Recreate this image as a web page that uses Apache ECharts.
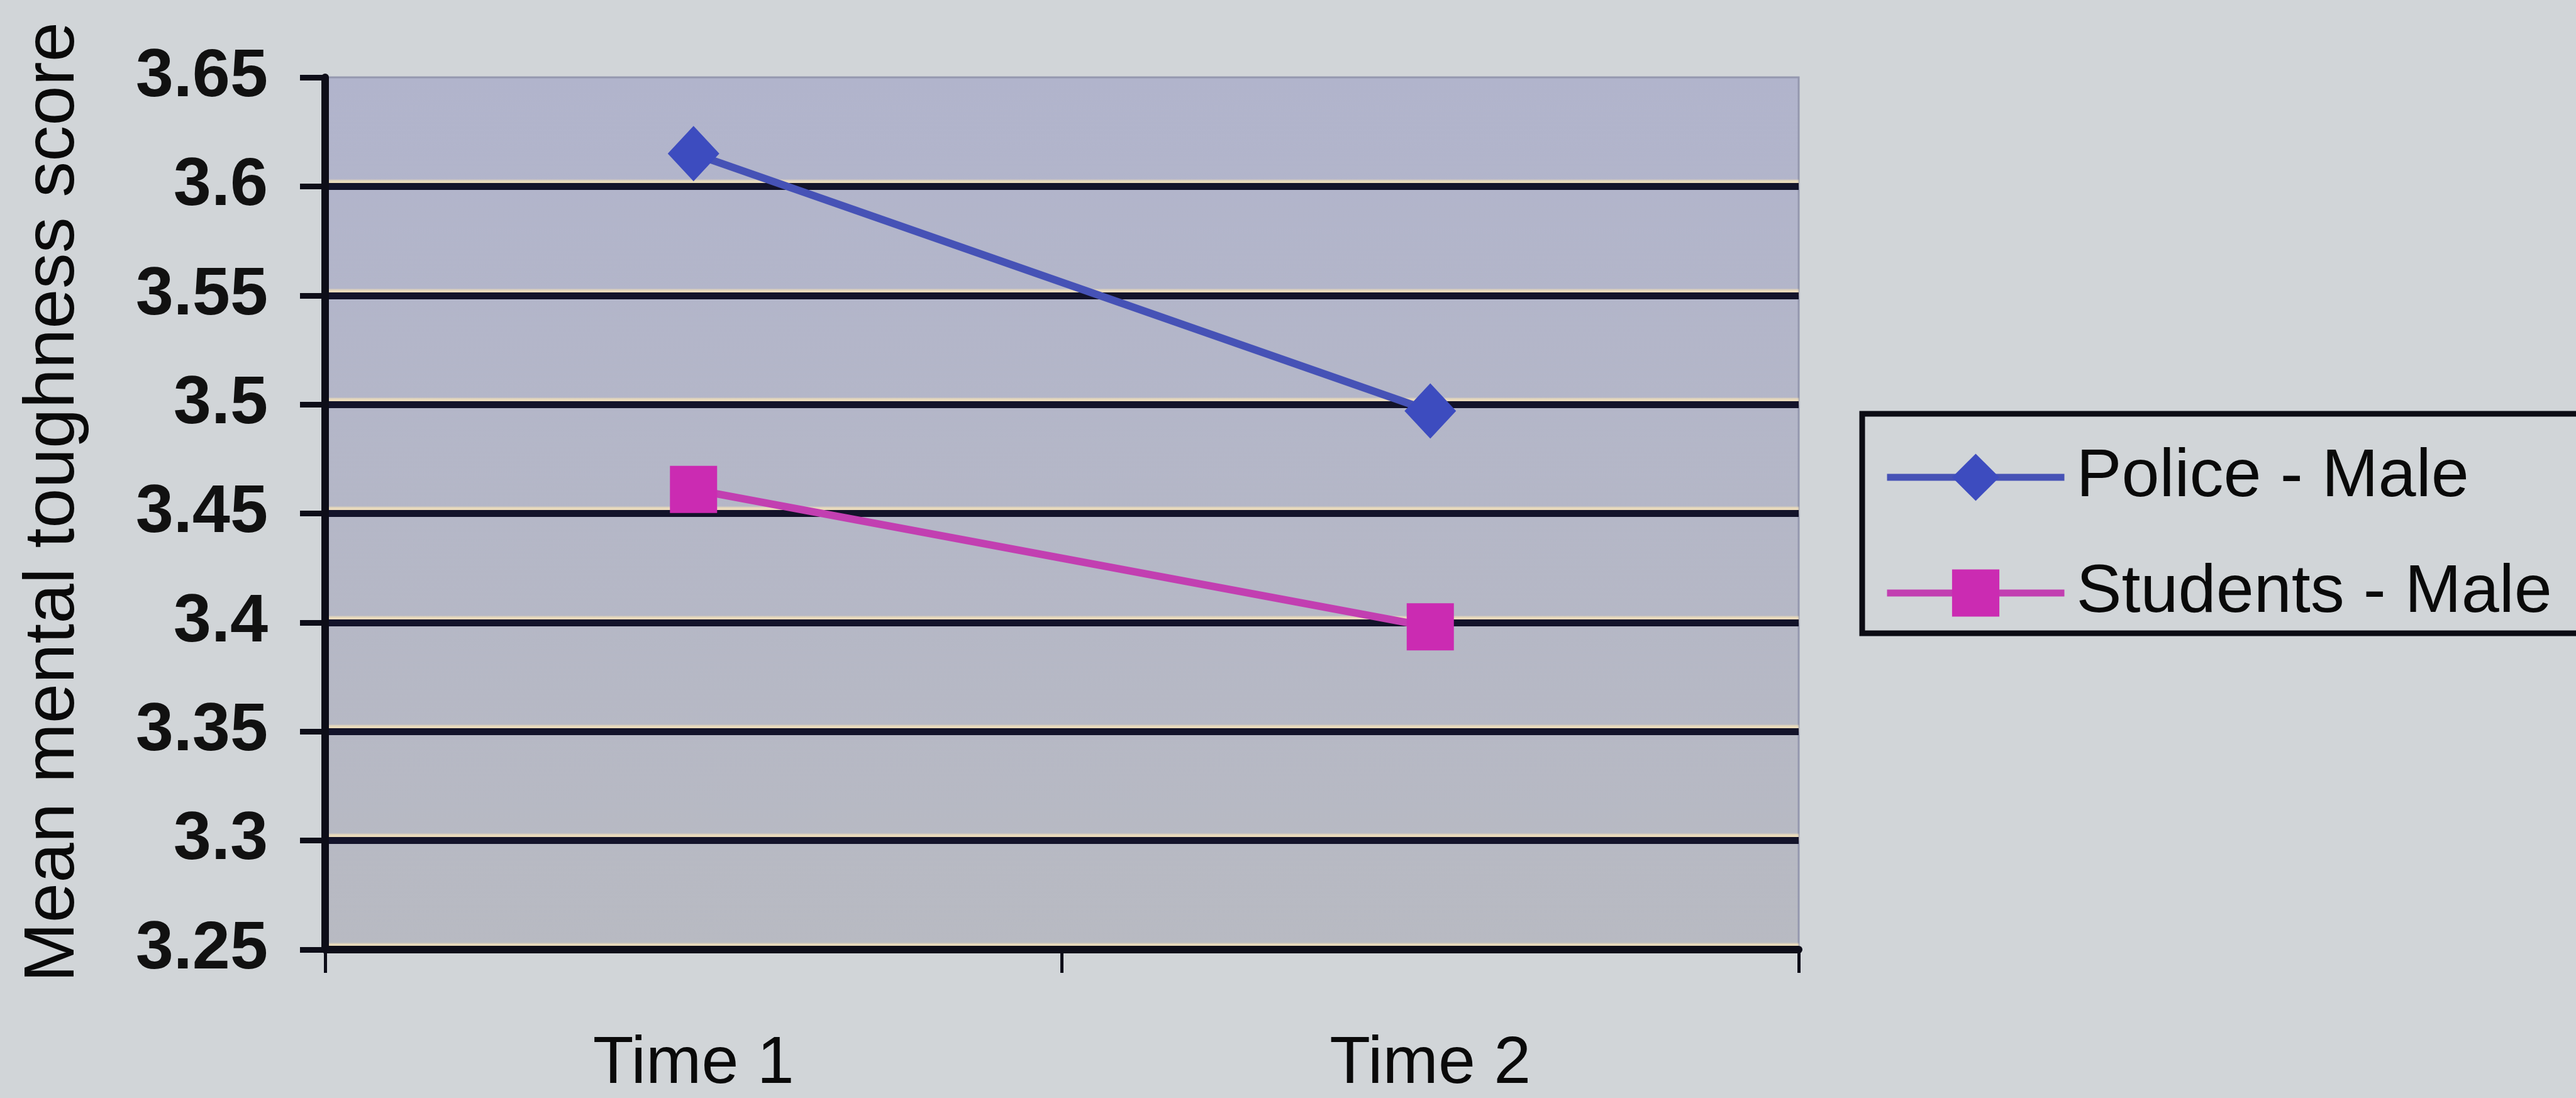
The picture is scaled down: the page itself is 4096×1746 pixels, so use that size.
<!DOCTYPE html>
<html>
<head>
<meta charset="utf-8">
<title>Mean mental toughness score</title>
<script src="https://cdn.jsdelivr.net/npm/echarts@6/dist/echarts.min.js"></script>
<style>
  html, body { margin: 0; padding: 0; background: #d1d5d8; }
  #chart { width: 4096px; height: 1746px; }
</style>
</head>
<body>
<div id="chart"></div>
<script>
// Measurement occasions
const categories = ['Time 1', 'Time 2'];

// Mean mental toughness score per group
const policeMale = [3.615, 3.497];
const studentsMale = [3.461, 3.398];

// Value axis range
const yMin = 3.25;
const yMax = 3.65;
const yStep = 0.05;

const FONT = '"Liberation Sans", Arial, sans-serif';

const chart = echarts.init(document.getElementById('chart'), null, { renderer: 'canvas' });

chart.setOption({
  backgroundColor: '#d1d5d8',
  animation: false,
  grid: {
    left: 517,
    right: 1236,
    top: 123,
    bottom: 227,
    containLabel: false,
    show: true,
    backgroundColor: {
      type: 'linear', x: 0, y: 0, x2: 0, y2: 1,
      colorStops: [
        { offset: 0, color: '#b1b4cc' },
        { offset: 1, color: '#b8bac2' }
      ]
    },
    borderColor: '#9497ae',
    borderWidth: 3
  },
  legend: {
    left: 2995,
    top: 705,
    orient: 'vertical',
    itemWidth: 282,
    itemHeight: 94,
    itemGap: 76,
    padding: 0,
    lineStyle: { width: 11 },
    textStyle: { fontFamily: FONT, fontSize: 108, color: '#0a0a0a', padding: [0, 0, 0, 14] },
    data: ['Police - Male', 'Students - Male']
  },
  graphic: [
    {
      // legend frame, running past the right edge of the page
      type: 'rect',
      shape: { x: 2961, y: 658, width: 1400, height: 349 },
      style: { fill: 'transparent', stroke: '#0c0c14', lineWidth: 9 },
      z: 1
    }
  ],
  xAxis: {
    type: 'category',
    data: categories,
    boundaryGap: true,
    axisLine: { show: true, lineStyle: { color: '#0d0d18', width: 12 } },
    axisTick: { show: true, length: 37, lineStyle: { color: '#0d0d18', width: 5 } },
    axisLabel: { fontFamily: FONT, fontSize: 106, color: '#0a0a0a', margin: 130 },
    splitLine: { show: false }
  },
  yAxis: {
    type: 'value',
    min: yMin,
    max: yMax,
    interval: yStep,
    name: 'Mean mental toughness score',
    nameLocation: 'middle',
    nameGap: 374,
    nameTextStyle: { fontFamily: FONT, fontSize: 114, color: '#0a0a0a', padding: [0, 0, 0, 36] },
    axisLine: { show: true, lineStyle: { color: '#0d0d18', width: 12 } },
    axisTick: { show: true, length: 40, lineStyle: { color: '#0d0d18', width: 9 } },
    axisLabel: { fontFamily: FONT, fontSize: 108, fontWeight: 'bold', color: '#111111', margin: 91 },
    splitLine: {
      show: true,
      showMaxLine: false,
      lineStyle: {
        color: '#13132a',
        width: 11,
        shadowColor: 'rgba(238,222,186,0.9)',
        shadowOffsetY: -5,
        shadowBlur: 2
      }
    }
  },
  series: [
    {
      name: 'Police - Male',
      type: 'line',
      data: policeMale,
      symbol: 'diamond',
      symbolSize: [82, 88],
      showAllSymbol: true,
      lineStyle: { color: '#4652b6', width: 12 },
      itemStyle: { color: '#3d4cbf', borderWidth: 0 },
      z: 3
    },
    {
      name: 'Students - Male',
      type: 'line',
      data: studentsMale,
      symbol: 'rect',
      symbolSize: 75,
      showAllSymbol: true,
      lineStyle: { color: '#c23fb1', width: 12 },
      itemStyle: { color: '#cb2bb2', borderWidth: 0 },
      z: 3
    }
  ]
});
</script>
</body>
</html>
